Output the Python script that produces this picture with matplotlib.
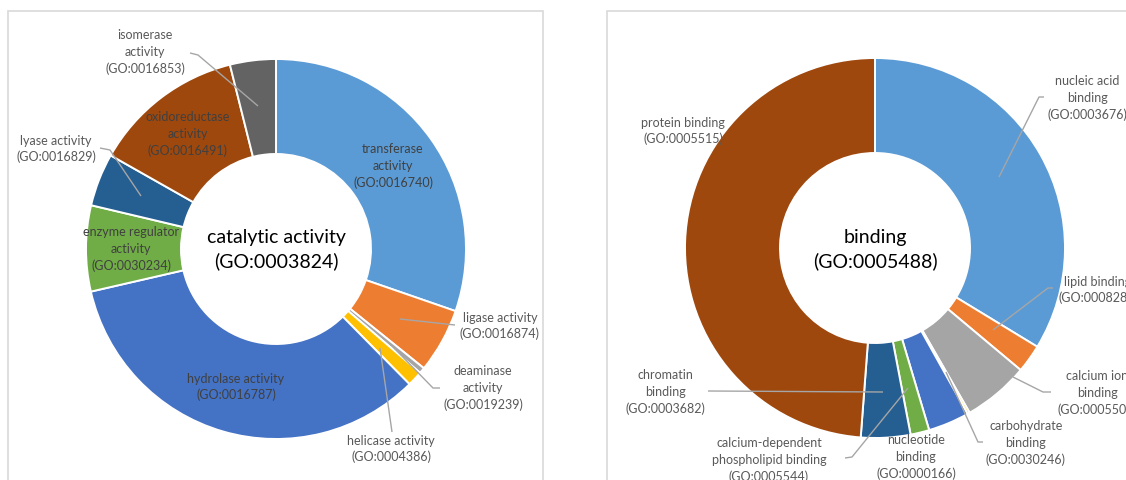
import matplotlib
matplotlib.use("Agg")
import matplotlib.pyplot as plt
from matplotlib.patches import Rectangle

# ---------------- data ----------------
cat_labels = ["transferase activity", "ligase activity", "deaminase activity",
              "helicase activity", "hydrolase activity", "enzyme regulator activity",
              "lyase activity", "oxidoreductase activity", "isomerase activity"]
cat_values = [30.3, 5.5, 0.5, 1.3, 33.8, 7.3, 4.5, 12.9, 3.9]

bind_labels = ["nucleic acid binding", "lipid binding", "calcium ion binding",
               "carbohydrate binding", "nucleotide binding",
               "calcium-dependent phospholipid binding", "chromatin binding",
               "protein binding"]
bind_values = [33.7, 2.4, 5.6, 0.2, 3.5, 1.6, 4.2, 48.8]

palette = ["#5B9BD5", "#ED7D31", "#A5A5A5", "#FFC000", "#4472C4",
           "#70AD47", "#255E91", "#9E480E", "#636363"]

# ---------------- figure ----------------
W, H = 1126, 480
fig = plt.figure(figsize=(W / 100, H / 100), dpi=100)
ax = fig.add_axes([0, 0, 1, 1])
plt.rcParams["font.family"] = ["Lato", "DejaVu Sans"]
FONT = ["Lato", "DejaVu Sans"]


def Y(y):
    return H - y


OUT = "#595959"
INS = "#404040"
LEAD = "#A6A6A6"
FS = 9.0

# panel frames
ax.add_patch(Rectangle((8, Y(530)), 535, 519, fill=False, ec="#D9D9D9", lw=1.2, zorder=0))
ax.add_patch(Rectangle((607, Y(530)), 600, 519, fill=False, ec="#D9D9D9", lw=1.2, zorder=0))

R = 190
wp = dict(width=R * 0.5, edgecolor="white", linewidth=1.4)
ax.pie(cat_values, colors=palette[:len(cat_values)], center=(276, Y(249)), radius=R,
       startangle=90, counterclock=False, wedgeprops=wp, frame=True)
ax.pie(bind_values, colors=palette[:len(bind_values)], center=(875, Y(248)), radius=R,
       startangle=90, counterclock=False, wedgeprops=wp, frame=True)

# label layout: text, x, y(center), color, leader polyline
cat_text = {
    "transferase activity": ("transferase\nactivity\n(GO:0016740)", 393, 166, INS, None),
    "ligase activity": ("ligase activity\n(GO:0016874)", 500, 326, OUT,
                        [(455, 325), (400, 319)]),
    "deaminase activity": ("deaminase\nactivity\n(GO:0019239)", 483, 388, OUT,
                           [(440, 388), (433, 388), (394, 348)]),
    "helicase activity": ("helicase activity\n(GO:0004386)", 391, 449, OUT,
                          [(392, 432), (380, 348)]),
    "hydrolase activity": ("hydrolase activity\n(GO:0016787)", 236, 387, INS, None),
    "enzyme regulator activity": ("enzyme regulator\nactivity\n(GO:0030234)", 131, 249, INS, None),
    "lyase activity": ("lyase activity\n(GO:0016829)", 56, 149, OUT,
                       [(100, 148), (110, 150), (141, 196)]),
    "oxidoreductase activity": ("oxidoreductase\nactivity\n(GO:0016491)", 188, 134, INS, None),
    "isomerase activity": ("isomerase\nactivity\n(GO:0016853)", 145, 52, OUT,
                           [(190, 53), (198, 55), (258, 106)]),
}
bind_text = {
    "nucleic acid binding": ("nucleic acid\nbinding\n(GO:0003676)", 1087, 98, OUT,
                             [(1044, 97), (1039, 97), (999, 177)]),
    "lipid binding": ("lipid binding\n(GO:0008289)", 1098, 290, OUT,
                      [(1053, 288), (1048, 288), (993, 330)]),
    "calcium ion binding": ("calcium ion\nbinding\n(GO:0005509)", 1097, 393, OUT,
                            [(1051, 392), (1043, 392), (1013, 377)]),
    "carbohydrate binding": ("carbohydrate\nbinding\n(GO:0030246)", 1026, 443, OUT,
                             [(983, 442), (978, 442), (946, 372)]),
    "nucleotide binding": ("nucleotide\nbinding\n(GO:0000166)", 916, 457, OUT, None),
    "calcium-dependent phospholipid binding": (
        "calcium-dependent\nphospholipid binding\n(GO:0005544)", 769, 460, OUT,
        [(845, 458), (852, 457), (908, 388)]),
    "chromatin binding": ("chromatin\nbinding\n(GO:0003682)", 665, 392, OUT,
                          [(708, 391), (883, 392)]),
    "protein binding": ("protein binding\n(GO:0005515)", 683, 131, OUT, None),
}

for labels, table in ((cat_labels, cat_text), (bind_labels, bind_text)):
    for lab in labels:
        txt, x, y, col, lead = table[lab]
        if lead:
            ax.plot([p[0] for p in lead], [Y(p[1]) for p in lead], color=LEAD, lw=1.0,
                    zorder=3, solid_capstyle="butt")
        ax.text(x, Y(y), txt, ha="center", va="center", color=col, fontsize=FS,
                family=FONT, linespacing=1.42, zorder=4)

ax.text(276, Y(250), "catalytic activity\n(GO:0003824)", ha="center", va="center",
        fontsize=14, color="black", family=FONT, linespacing=1.42)
ax.text(875, Y(250), "binding\n(GO:0005488)", ha="center", va="center",
        fontsize=14, color="black", family=FONT, linespacing=1.42)

ax.set_xlim(0, W)
ax.set_ylim(0, H)
ax.set_aspect("auto")
ax.axis("off")
fig.savefig("out.png", dpi=100, facecolor="white")
